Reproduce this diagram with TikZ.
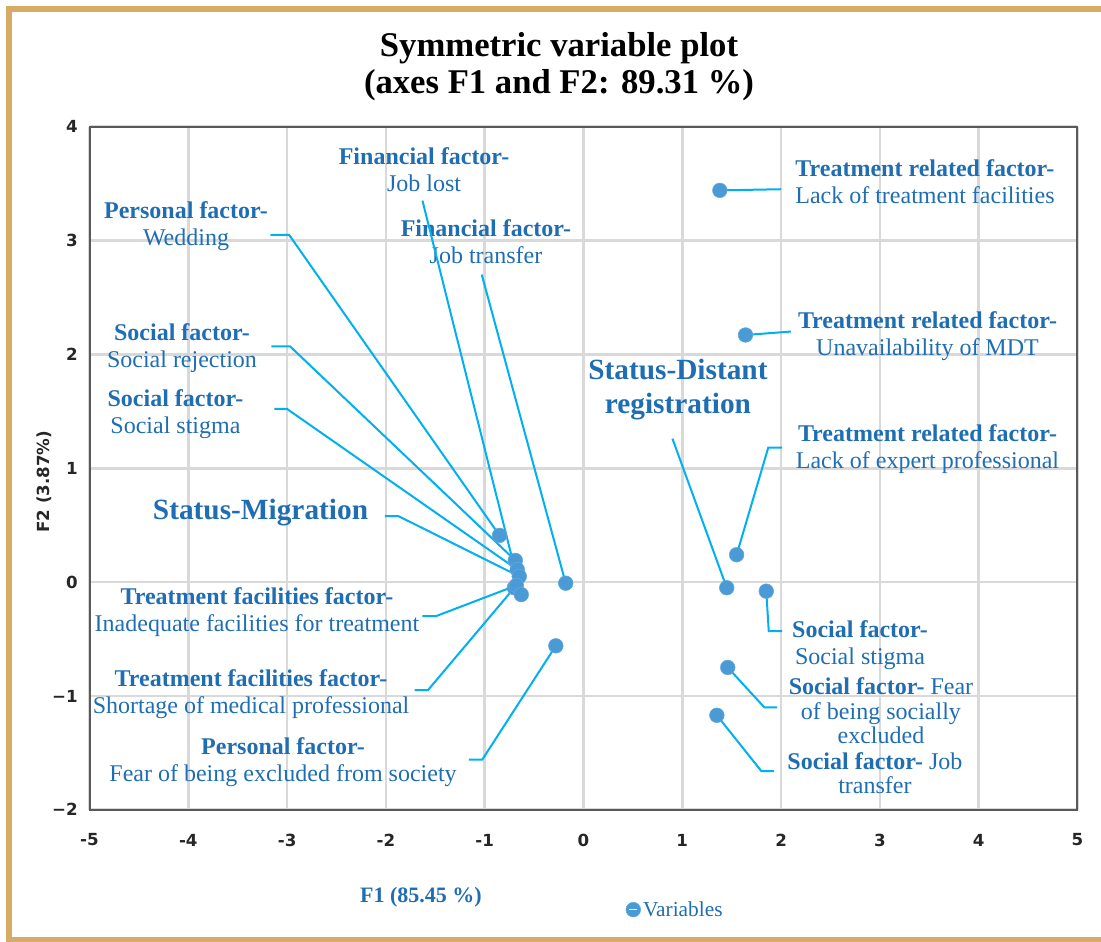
\documentclass[tikz,border=0pt]{standalone}
\usepackage{fontspec}
\setmainfont{Liberation Serif}
\newfontfamily\axfont{DejaVu Sans}
\usetikzlibrary{positioning}
\definecolor{labc}{HTML}{1F6DB3}
\definecolor{leadc}{HTML}{00B0F0}
\definecolor{ptc}{HTML}{4A9AD6}
\definecolor{gridc}{HTML}{D9D9D9}
\definecolor{framec}{HTML}{595959}
\definecolor{goldc}{HTML}{D5AB65}
\tikzset{
  ld/.style={leadc,line width=1.5pt},
  lab/.style={text=labc,align=center,font=\fontsize{18}{20.25}\selectfont,inner sep=0pt},
  stat/.style={text=labc,align=center,font=\fontsize{22}{25.5}\selectfont\bfseries,inner sep=0pt},
  pt/.style={circle,fill=ptc,draw=ptc!85!white,line width=0.4pt,minimum size=11pt,inner sep=0pt},
  tk/.style={font=\axfont\bfseries\fontsize{12.5}{14}\selectfont,text=black!85,inner sep=0pt}
}

\begin{document}
\begin{tikzpicture}[x=74.1pt,y=85.4pt]
\useasboundingbox (-5.906,-3.159) rectangle (5.238,5.112);
\draw[goldc,line width=4.5pt] (5.3,5.031) -- (-5.812,5.031) -- (-5.812,-3.143) -- (5.3,-3.143);
\draw[gridc,line width=2pt,xstep=1,ystep=1] (-5,-2) grid (5,4);
\draw[framec,line width=1.5pt] (-5,-2) rectangle (5,4);
\foreach \v in {-5,...,5} \node[tk] (tx\v) at (\v,-2.265) {\v};
\foreach \v/\t in {4/4,3/3,2/2,1/1,0/0,-1/−1,-2/−2} \node[tk,anchor=east] (ty\v) at (-5.117,\v) {\t};
\node[tk,rotate=90] (f2) at (-5.461,0.88) {F2 (3.87\%)};
\node[text=labc,font=\fontsize{16.5}{18}\selectfont\bfseries] (f1) at (-1.645,-2.772) {F1 (85.45 \%)};
\node[font=\fontsize{26}{28}\selectfont\bfseries,align=center] (ttl) at (-0.248,4.524) {Symmetric variable plot\\(axes F1 and F2: 89.31 \%)};

\node[lab] (llst) at (-1.614,3.623) {\textbf{Financial factor-}\\Job lost};
\node[lab] (lwed) at (-4.023,3.127) {\textbf{Personal factor-}\\Wedding};
\node[lab] (ljtr) at (-0.987,2.987) {\textbf{Financial factor-}\\Job transfer};
\node[lab] (lrej) at (-4.064,2.056) {\textbf{Social factor-}\\Social rejection};
\node[lab] (lsst) at (-4.13,1.477) {\textbf{Social factor-}\\Social stigma};
\node[stat] (lmig) at (-3.269,0.61) {Status-Migration};
\node[lab] (linf) at (-3.305,-0.266) {\textbf{Treatment facilities factor-}\\Inadequate facilities for treatment};
\node[lab] (lshm) at (-3.365,-0.982) {\textbf{Treatment facilities factor-}\\Shortage of medical professional};
\node[lab] (lfex) at (-3.041,-1.583) {\textbf{Personal factor-}\\Fear of being excluded from society};
\node[lab] (lltf) at (3.456,3.518) {\textbf{Treatment related factor-}\\Lack of treatment facilities};
\node[lab] (lmdt) at (3.482,2.162) {\textbf{Treatment related factor-}\\Unavailability of MDT};
\node[stat] (ldst) at (0.956,1.687) {Status-Distant\\registration};
\node[lab] (llep) at (3.482,1.165) {\textbf{Treatment related factor-}\\Lack of expert professional};
\node[lab] (lstr) at (2.799,-0.551) {\textbf{Social factor-}\\Social stigma};
\node[lab,font=\fontsize{18}{18.5}\selectfont] (lfse) at (3.011,-1.13) {\textbf{Social factor-} Fear\\of being socially\\excluded};
\node[lab,font=\fontsize{18}{18}\selectfont] (lsjt) at (2.95,-1.675) {\textbf{Social factor-} Job\\transfer};

\coordinate (cwed) at (-0.85,0.41);
\coordinate (crej) at (-0.69,0.19);
\coordinate (csst) at (-0.67,0.11);
\coordinate (cmig) at (-0.65,0.05);
\coordinate (cshm) at (-0.70,-0.05);
\coordinate (cinf) at (-0.68,-0.03);
\coordinate (clst) at (-0.63,-0.11);
\coordinate (cjtr) at (-0.18,-0.01);
\coordinate (cfex) at (-0.28,-0.56);
\coordinate (cltf) at (1.38,3.44);
\coordinate (cmdt) at (1.64,2.17);
\coordinate (clep) at (1.55,0.24);
\coordinate (cdst) at (1.45,-0.05);
\coordinate (cstr) at (1.85,-0.08);
\coordinate (cfse) at (1.46,-0.75);
\coordinate (csjt) at (1.35,-1.17);

\coordinate (ewed) at (-3.17,3.05);
\coordinate (erej) at (-3.16,2.07);
\coordinate (esst) at (-3.13,1.52);
\coordinate (elst) at (-1.63,3.35);
\coordinate (ejtr) at (-1.03,2.70);
\coordinate (emig) at (-2.01,0.58);
\coordinate (einf) at (-1.63,-0.30);
\coordinate (eshm) at (-1.71,-0.95);
\coordinate (efex) at (-1.16,-1.56);
\coordinate (eltf) at (2.0,3.45);
\coordinate (emdt) at (2.1,2.2);
\coordinate (elep) at (2.01,1.18);
\coordinate (edst) at (0.9,1.26);
\coordinate (estr) at (2.01,-0.43);
\coordinate (efse) at (1.96,-1.1);
\coordinate (esjt) at (1.93,-1.66);

\draw[ld] (ewed) -- ++(0.19,0) -- (cwed);
\draw[ld] (erej) -- ++(0.19,0) -- (crej);
\draw[ld] (esst) -- ++(0.13,0) -- (csst);
\draw[ld] (elst) -- (clst);
\draw[ld] (ejtr) -- (cjtr);
\draw[ld] (emig) -- ++(0.135,0) -- (cmig);
\draw[ld] (einf) -- ++(0.135,0) -- (cinf);
\draw[ld] (eshm) -- ++(0.135,0) -- (cshm);
\draw[ld] (efex) -- ++(0.135,0) -- (cfex);
\draw[ld] (eltf) -- (cltf);
\draw[ld] (emdt) -- (cmdt);
\draw[ld] (elep) -- ++(-0.14,0) -- (clep);
\draw[ld] (edst) -- (cdst);
\draw[ld] (estr) -- ++(-0.135,0) -- (cstr);
\draw[ld] (efse) -- ++(-0.13,0) -- (cfse);
\draw[ld] (esjt) -- ++(-0.13,0) -- (csjt);

\foreach \p in {wed,rej,sst,mig,shm,inf,lst,jtr,fex,ltf,mdt,lep,dst,str,fse,sjt}
  \node[pt] (p\p) at (c\p) {};

\node[pt] (lgd) at (0.504,-2.877) {};
\draw[white,line width=1.2pt] ([xshift=-3pt]lgd.center) -- ([xshift=3pt]lgd.center);
\node[text=labc,font=\fontsize{16}{18}\selectfont,right=1.5pt of lgd,inner sep=0pt] (lgt) {Variables};
\end{tikzpicture}
\end{document}
